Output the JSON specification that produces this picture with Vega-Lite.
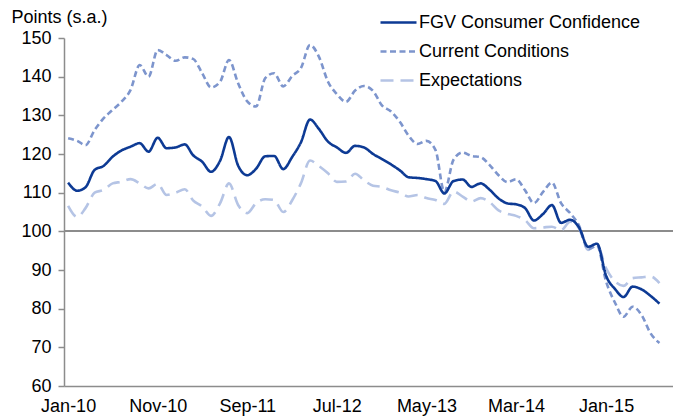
{
  "$schema": "https://vega.github.io/schema/vega-lite/v6.json",
  "width": 609,
  "height": 348,
  "autosize": {"type": "none"},
  "padding": {"left": 64, "top": 38, "right": 0, "bottom": 31},
  "background": "white",
  "config": {
    "view": {"stroke": null},
    "font": "Liberation Sans",
    "axis": {"labelFont": "Liberation Sans", "titleFont": "Liberation Sans", "labelColor": "#000000", "titleColor": "#000000", "domainColor": "#8c8c8c", "tickColor": "#8c8c8c", "domainWidth": 1.5, "tickWidth": 1.5, "grid": false, "labelOverlap": false},
    "legend": {"labelFont": "Liberation Sans", "labelColor": "#000000"}
  },
  "data": {
    "values": [
      {"d": "2010/01/01", "FGV Consumer Confidence": 112.6, "Current Conditions": 124.1, "Expectations": 106.6},
      {"d": "2010/02/01", "FGV Consumer Confidence": 110.5, "Current Conditions": 123.4, "Expectations": 103.7},
      {"d": "2010/03/01", "FGV Consumer Confidence": 111.4, "Current Conditions": 122.3, "Expectations": 106.0},
      {"d": "2010/04/01", "FGV Consumer Confidence": 115.9, "Current Conditions": 126.2, "Expectations": 110.0},
      {"d": "2010/05/01", "FGV Consumer Confidence": 116.9, "Current Conditions": 129.2, "Expectations": 110.7},
      {"d": "2010/06/01", "FGV Consumer Confidence": 119.3, "Current Conditions": 131.4, "Expectations": 112.4},
      {"d": "2010/07/01", "FGV Consumer Confidence": 120.9, "Current Conditions": 133.5, "Expectations": 112.8},
      {"d": "2010/08/01", "FGV Consumer Confidence": 121.9, "Current Conditions": 136.6, "Expectations": 113.5},
      {"d": "2010/09/01", "FGV Consumer Confidence": 122.8, "Current Conditions": 143.0, "Expectations": 112.4},
      {"d": "2010/10/01", "FGV Consumer Confidence": 120.6, "Current Conditions": 140.0, "Expectations": 111.1},
      {"d": "2010/11/01", "FGV Consumer Confidence": 124.2, "Current Conditions": 146.9, "Expectations": 112.3},
      {"d": "2010/12/01", "FGV Consumer Confidence": 121.5, "Current Conditions": 145.6, "Expectations": 109.4},
      {"d": "2011/01/01", "FGV Consumer Confidence": 121.7, "Current Conditions": 144.1, "Expectations": 110.0},
      {"d": "2011/02/01", "FGV Consumer Confidence": 122.5, "Current Conditions": 145.0, "Expectations": 110.9},
      {"d": "2011/03/01", "FGV Consumer Confidence": 119.7, "Current Conditions": 144.6, "Expectations": 108.0},
      {"d": "2011/04/01", "FGV Consumer Confidence": 118.0, "Current Conditions": 140.9, "Expectations": 106.4},
      {"d": "2011/05/01", "FGV Consumer Confidence": 115.4, "Current Conditions": 137.2, "Expectations": 104.0},
      {"d": "2011/06/01", "FGV Consumer Confidence": 118.3, "Current Conditions": 138.7, "Expectations": 107.3},
      {"d": "2011/07/01", "FGV Consumer Confidence": 124.4, "Current Conditions": 144.3, "Expectations": 112.4},
      {"d": "2011/08/01", "FGV Consumer Confidence": 117.0, "Current Conditions": 138.3, "Expectations": 106.8},
      {"d": "2011/09/01", "FGV Consumer Confidence": 114.5, "Current Conditions": 133.6, "Expectations": 104.7},
      {"d": "2011/10/01", "FGV Consumer Confidence": 116.2, "Current Conditions": 132.3, "Expectations": 107.3},
      {"d": "2011/11/01", "FGV Consumer Confidence": 119.4, "Current Conditions": 139.6, "Expectations": 108.3},
      {"d": "2011/12/01", "FGV Consumer Confidence": 119.5, "Current Conditions": 140.9, "Expectations": 108.1},
      {"d": "2012/01/01", "FGV Consumer Confidence": 116.1, "Current Conditions": 137.5, "Expectations": 105.0},
      {"d": "2012/02/01", "FGV Consumer Confidence": 119.3, "Current Conditions": 140.2, "Expectations": 108.1},
      {"d": "2012/03/01", "FGV Consumer Confidence": 123.0, "Current Conditions": 142.2, "Expectations": 112.4},
      {"d": "2012/04/01", "FGV Consumer Confidence": 128.9, "Current Conditions": 148.2, "Expectations": 118.3},
      {"d": "2012/05/01", "FGV Consumer Confidence": 126.5, "Current Conditions": 145.2, "Expectations": 116.9},
      {"d": "2012/06/01", "FGV Consumer Confidence": 123.2, "Current Conditions": 138.7, "Expectations": 115.0},
      {"d": "2012/07/01", "FGV Consumer Confidence": 121.7, "Current Conditions": 135.5, "Expectations": 112.8},
      {"d": "2012/08/01", "FGV Consumer Confidence": 120.3, "Current Conditions": 133.5, "Expectations": 112.9},
      {"d": "2012/09/01", "FGV Consumer Confidence": 122.1, "Current Conditions": 136.4, "Expectations": 114.9},
      {"d": "2012/10/01", "FGV Consumer Confidence": 121.7, "Current Conditions": 137.6, "Expectations": 113.2},
      {"d": "2012/11/01", "FGV Consumer Confidence": 120.0, "Current Conditions": 136.3, "Expectations": 111.8},
      {"d": "2012/12/01", "FGV Consumer Confidence": 118.7, "Current Conditions": 132.6, "Expectations": 111.5},
      {"d": "2013/01/01", "FGV Consumer Confidence": 117.3, "Current Conditions": 131.0, "Expectations": 110.6},
      {"d": "2013/02/01", "FGV Consumer Confidence": 115.7, "Current Conditions": 128.2, "Expectations": 110.0},
      {"d": "2013/03/01", "FGV Consumer Confidence": 114.0, "Current Conditions": 124.8, "Expectations": 109.0},
      {"d": "2013/04/01", "FGV Consumer Confidence": 113.8, "Current Conditions": 122.6, "Expectations": 109.4},
      {"d": "2013/05/01", "FGV Consumer Confidence": 113.5, "Current Conditions": 123.4, "Expectations": 108.6},
      {"d": "2013/06/01", "FGV Consumer Confidence": 113.0, "Current Conditions": 121.0, "Expectations": 108.1},
      {"d": "2013/07/01", "FGV Consumer Confidence": 109.8, "Current Conditions": 110.2, "Expectations": 107.1},
      {"d": "2013/08/01", "FGV Consumer Confidence": 113.0, "Current Conditions": 118.5, "Expectations": 110.3},
      {"d": "2013/09/01", "FGV Consumer Confidence": 113.4, "Current Conditions": 120.4, "Expectations": 109.0},
      {"d": "2013/10/01", "FGV Consumer Confidence": 111.5, "Current Conditions": 119.5, "Expectations": 107.7},
      {"d": "2013/11/01", "FGV Consumer Confidence": 112.4, "Current Conditions": 119.2, "Expectations": 108.6},
      {"d": "2013/12/01", "FGV Consumer Confidence": 110.8, "Current Conditions": 117.2, "Expectations": 107.6},
      {"d": "2014/01/01", "FGV Consumer Confidence": 108.5, "Current Conditions": 114.5, "Expectations": 105.4},
      {"d": "2014/02/01", "FGV Consumer Confidence": 107.2, "Current Conditions": 112.7, "Expectations": 104.5},
      {"d": "2014/03/01", "FGV Consumer Confidence": 107.0, "Current Conditions": 113.5, "Expectations": 104.0},
      {"d": "2014/04/01", "FGV Consumer Confidence": 106.0, "Current Conditions": 110.6, "Expectations": 102.9},
      {"d": "2014/05/01", "FGV Consumer Confidence": 102.8, "Current Conditions": 107.3, "Expectations": 100.8},
      {"d": "2014/06/01", "FGV Consumer Confidence": 104.5, "Current Conditions": 110.2, "Expectations": 101.0},
      {"d": "2014/07/01", "FGV Consumer Confidence": 106.8, "Current Conditions": 112.6, "Expectations": 101.2},
      {"d": "2014/08/01", "FGV Consumer Confidence": 102.2, "Current Conditions": 107.3, "Expectations": 100.3},
      {"d": "2014/09/01", "FGV Consumer Confidence": 103.0, "Current Conditions": 104.7, "Expectations": 102.5},
      {"d": "2014/10/01", "FGV Consumer Confidence": 101.0, "Current Conditions": 101.5, "Expectations": 100.8},
      {"d": "2014/11/01", "FGV Consumer Confidence": 96.0, "Current Conditions": 95.4, "Expectations": 95.2},
      {"d": "2014/12/01", "FGV Consumer Confidence": 96.8, "Current Conditions": 96.3, "Expectations": 96.5},
      {"d": "2015/01/01", "FGV Consumer Confidence": 88.5, "Current Conditions": 87.0, "Expectations": 90.4},
      {"d": "2015/02/01", "FGV Consumer Confidence": 85.0, "Current Conditions": 81.4, "Expectations": 87.0},
      {"d": "2015/03/01", "FGV Consumer Confidence": 83.0, "Current Conditions": 77.9, "Expectations": 85.9},
      {"d": "2015/04/01", "FGV Consumer Confidence": 85.7, "Current Conditions": 80.5, "Expectations": 87.9},
      {"d": "2015/05/01", "FGV Consumer Confidence": 85.0, "Current Conditions": 78.4, "Expectations": 88.1},
      {"d": "2015/06/01", "FGV Consumer Confidence": 83.3, "Current Conditions": 73.6, "Expectations": 88.3},
      {"d": "2015/07/01", "FGV Consumer Confidence": 81.3, "Current Conditions": 71.1, "Expectations": 86.6}
    ]
  },
  "layer": [
    {
      "mark": {"type": "rule", "color": "#8c8c8c", "strokeWidth": 1.5},
      "encoding": {
        "y": {
          "datum": 100, "type": "quantitative",
          "scale": {"domain": [60, 150], "nice": false, "zero": false},
          "axis": {
            "values": [60, 70, 80, 90, 100, 110, 120, 130, 140, 150],
            "labelOverlap": false, "labelFlush": false,
            "labelFontSize": 18, "tickSize": 6, "labelPadding": 7,
            "title": "Points (s.a.)", "titleAngle": 0, "titleAlign": "left", "titleBaseline": "middle",
            "titleX": -53, "titleY": -21, "titleFontSize": 18, "titleFontWeight": "normal"
          }
        }
      }
    },
    {
      "transform": [{"fold": ["Expectations", "Current Conditions", "FGV Consumer Confidence"], "as": ["series", "value"]}],
      "mark": {"type": "line", "interpolate": "monotone", "strokeWidth": 2.6, "clip": true},
      "encoding": {
        "x": {
          "field": "d", "type": "temporal",
          "scale": {"domain": [{"year": 2009, "month": 12, "date": 18}, {"year": 2015, "month": 8, "date": 16}]},
          "axis": {
            "title": null, "format": "%b-%y", "labelFontSize": 18, "ticks": false, "labelPadding": 11,
            "values": [{"year": 2010, "month": 1, "date": 1}, {"year": 2010, "month": 11, "date": 1}, {"year": 2011, "month": 9, "date": 1}, {"year": 2012, "month": 7, "date": 1}, {"year": 2013, "month": 5, "date": 1}, {"year": 2014, "month": 3, "date": 1}, {"year": 2015, "month": 1, "date": 1}],
            "labelOverlap": false, "labelFlush": false
          }
        },
        "y": {
          "field": "value", "type": "quantitative",
          "scale": {"domain": [60, 150], "nice": false, "zero": false},
          "axis": {
            "values": [60, 70, 80, 90, 100, 110, 120, 130, 140, 150],
            "labelOverlap": false, "labelFlush": false,
            "labelFontSize": 18, "tickSize": 6, "labelPadding": 7,
            "title": "Points (s.a.)", "titleAngle": 0, "titleAlign": "left", "titleBaseline": "middle",
            "titleX": -53, "titleY": -21, "titleFontSize": 18, "titleFontWeight": "normal"
          }
        },
        "color": {
          "field": "series", "type": "nominal",
          "scale": {"domain": ["FGV Consumer Confidence", "Current Conditions", "Expectations"], "range": ["#0d3a94", "#7d95cd", "#b5c4e5"]},
          "legend": {
            "title": null, "orient": "none", "legendX": 315, "legendY": -35,
            "symbolType": "stroke", "symbolSize": 1296, "symbolStrokeWidth": 2.6,
            "labelFontSize": 18, "labelOffset": 1, "rowPadding": 0, "labelLimit": 400
          }
        },
        "strokeDash": {
          "field": "series", "type": "nominal",
          "scale": {"domain": ["FGV Consumer Confidence", "Current Conditions", "Expectations"], "range": [[1, 0], [6, 3.5], [13, 7]]},
          "legend": null
        },
        "order": {"field": "series"}
      }
    }
  ]
}
